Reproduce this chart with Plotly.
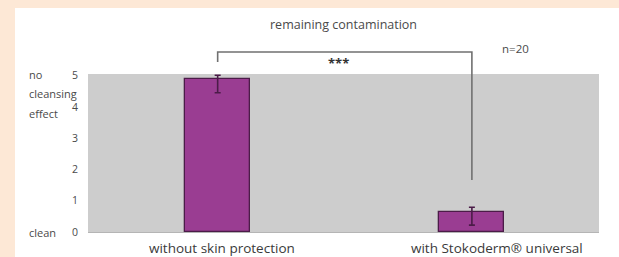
import plotly.graph_objects as go

# ---- data ----
categories = ["without skin protection", "with Stokoderm\u00ae universal"]
values = [4.88, 0.63]
err_plus = [0.13, 0.16]
err_minus = [0.43, 0.41]
y_ticks = [0, 1, 2, 3, 4, 5]
title_text = "remaining contamination"
n_text = "n=20"
sig_text = "***"

W, H = 619, 257
L, R, T, B = 88, 20, 74, 25
PH = H - T - B

def py(ypx):
    return (H - B - ypx) / PH

def px(xpx):
    return (xpx - L) / (W - L - R)

TXT = "#4a4a4a"
FONT = "Open Sans"
fig = go.Figure()
fig.add_trace(go.Bar(
    x=categories, y=values, width=0.255,
    marker=dict(color="#9a3d92", line=dict(color="#4b1c48", width=1.3)),
    error_y=dict(type="data", symmetric=False, array=err_plus, arrayminus=err_minus,
                 color="#4b1c48", thickness=1.6, width=3),
    hoverinfo="skip",
))

shapes = [
    # white right side (explicit)
    dict(type="rect", xref="paper", yref="paper", x0=1.0, x1=1.3, y0=-0.4, y1=py(8),
         fillcolor="#ffffff", line_width=0, layer="below"),
    # peach frame strips
    dict(type="rect", xref="paper", yref="paper", x0=-0.3, x1=px(15), y0=-0.4, y1=1.7,
         fillcolor="#fde8d6", line_width=0, layer="below"),
    dict(type="rect", xref="paper", yref="paper", x0=-0.3, x1=1.3, y0=py(8), y1=1.7,
         fillcolor="#fde8d6", line_width=0, layer="below"),
    # significance bracket
    dict(type="path", xref="x", yref="paper",
         path=f"M 0,{py(62)} L 0,{py(52)} L 1,{py(52)} L 1,{py(180)}",
         line=dict(color="#707070", width=1.6)),
]

def ann(text, x, y, size, xref="paper", xanchor="center", xshift=0, color=TXT):
    return dict(text=text, xref=xref, yref="paper", x=x, y=y, xanchor=xanchor,
                yanchor="middle", xshift=xshift, showarrow=False,
                font=dict(size=size, color=color, family=FONT))

annotations = [
    ann(title_text, 0.5, py(25), 12.5),
    ann(n_text, px(515), py(48), 11.5),
    ann("<b>" + sig_text + "</b>", 0.5, py(63), 13, xref="x", xshift=-6, color="#333"),
    ann("no", px(27), py(74), 11, xanchor="left"),
    ann("cleansing", px(27), py(93), 11, xanchor="left"),
    ann("effect", px(27), py(113), 11, xanchor="left"),
    ann("clean", px(27), py(232), 11, xanchor="left"),
]
label_shift = [4, 25]
for i, c in enumerate(categories):
    annotations.append(ann(c, i, py(248), 13.5, xref="x", xshift=label_shift[i], color="#3a3a3a"))

fig.update_layout(
    width=W, height=H, margin=dict(l=L, r=R, t=T, b=B),
    paper_bgcolor="white", plot_bgcolor="#cdcdcd",
    showlegend=False, bargap=0,
    shapes=shapes, annotations=annotations,
    xaxis=dict(type="category", range=[-0.51, 1.5], showticklabels=False, showgrid=False,
               zeroline=False, showline=True, linecolor="#b5b5b5", linewidth=1),
    yaxis=dict(range=[0, 5.05], tickvals=y_ticks, showgrid=False, zeroline=False,
               ticks="", ticklabelstandoff=9,
               tickfont=dict(size=10.5, color=TXT, family=FONT)),
)

fig.write_html("out.html", config={"displayModeBar": False},
               post_script="document.body.style.margin='0';document.body.style.overflow='hidden';"
                           "document.documentElement.style.overflow='hidden';")
